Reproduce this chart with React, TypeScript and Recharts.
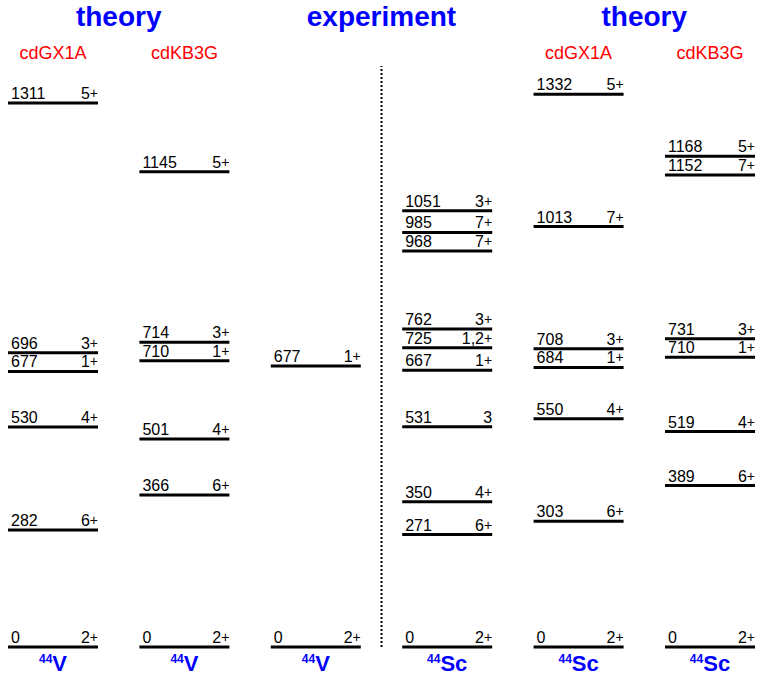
import React from "react";
import { ScatterChart, Scatter, XAxis, YAxis, ReferenceLine } from "recharts";

// level energies (keV) and spin-parity, one pair of arrays per column
const v44Gx1aEnergy = [1311, 696, 677, 530, 282, 0];
const v44Gx1aSpin = ["5+", "3+", "1+", "4+", "6+", "2+"];

const v44Kb3gEnergy = [1145, 714, 710, 501, 366, 0];
const v44Kb3gSpin = ["5+", "3+", "1+", "4+", "6+", "2+"];

const v44ExpEnergy = [677, 0];
const v44ExpSpin = ["1+", "2+"];

const sc44ExpEnergy = [1051, 985, 968, 762, 725, 667, 531, 350, 271, 0];
const sc44ExpSpin = ["3+", "7+", "7+", "3+", "1,2+", "1+", "3", "4+", "6+", "2+"];

const sc44Gx1aEnergy = [1332, 1013, 708, 684, 550, 303, 0];
const sc44Gx1aSpin = ["5+", "7+", "3+", "1+", "4+", "6+", "2+"];

const sc44Kb3gEnergy = [1168, 1152, 731, 710, 519, 389, 0];
const sc44Kb3gSpin = ["5+", "7+", "3+", "1+", "4+", "6+", "2+"];

const columnEnergies = [v44Gx1aEnergy, v44Kb3gEnergy, v44ExpEnergy, sc44ExpEnergy, sc44Gx1aEnergy, sc44Kb3gEnergy];
const columnSpins = [v44Gx1aSpin, v44Kb3gSpin, v44ExpSpin, sc44ExpSpin, sc44Gx1aSpin, sc44Kb3gSpin];
const columnNuclei = ["V", "V", "V", "Sc", "Sc", "Sc"];
const massNumber = "44";
const interactionLabels = ["cdGX1A", "cdKB3G", "", "", "cdGX1A", "cdKB3G"];
const groupTitles = [
  { text: "theory", cols: [0, 1] },
  { text: "experiment", cols: [2, 3] },
  { text: "theory", cols: [4, 5] },
];

const W = 761;
const H = 677;
const MARGIN = { top: 66, right: 51, bottom: 30, left: 53 };
const E_MAX = 1400;
const MIN_GAP = 45; // keV, levels closer than this are pushed apart
const HALF = 45; // half length of a level line, px

const BLUE = "#0000ff";
const RED = "#ff0000";
const FONT = "'Liberation Sans', Arial, sans-serif";

// push close-lying levels apart so their labels don't collide
function spreadLevels(energies: number[], gap: number): number[] {
  const order = energies.map((_, i) => i).sort((a, b) => energies[a] - energies[b]);
  const clusters = order.map((i) => ({ members: [i], center: energies[i] }));
  let merged = true;
  while (merged) {
    merged = false;
    for (let k = 0; k < clusters.length - 1; k++) {
      const a = clusters[k];
      const b = clusters[k + 1];
      const aTop = a.center + ((a.members.length - 1) / 2) * gap;
      const bBot = b.center - ((b.members.length - 1) / 2) * gap;
      if (bBot - aTop < gap) {
        const members = [...a.members, ...b.members];
        const center = members.reduce((s, i) => s + energies[i], 0) / members.length;
        clusters.splice(k, 2, { members, center });
        merged = true;
        break;
      }
    }
  }
  const out: number[] = new Array(energies.length);
  clusters.forEach((c) =>
    c.members.forEach((i, k) => {
      out[i] = c.center + (k - (c.members.length - 1) / 2) * gap;
    })
  );
  return out;
}

type Level = { col: number; energy: number; y: number; spin: string; nucleus: string };

const levels: Level[] = columnEnergies.flatMap((energies, col) => {
  const shown = spreadLevels(energies, MIN_GAP);
  return energies.map((energy, i) => ({
    col,
    energy,
    y: shown[i],
    spin: columnSpins[col][i],
    nucleus: columnNuclei[col],
  }));
});

const colX = (col: number) =>
  MARGIN.left + (col / (columnEnergies.length - 1)) * (W - MARGIN.left - MARGIN.right);

function LevelShape(props: any) {
  const { cx, cy, payload } = props;
  const p = payload as Level;
  const hasPlus = p.spin.endsWith("+");
  const spinCore = hasPlus ? p.spin.slice(0, -1) : p.spin;
  return (
    <g>
      <line x1={cx - HALF} x2={cx + HALF} y1={cy} y2={cy} stroke="#000" strokeWidth={3} />
      <text x={cx - HALF + 3} y={cy - 4} fontSize={16} fontFamily={FONT} fill="#000">
        {p.energy}
      </text>
      <text x={cx + HALF} y={cy - 4} fontSize={16} fontFamily={FONT} fill="#000" textAnchor="end">
        {spinCore}
        {hasPlus && <tspan fontSize={14} dy={-1}>+</tspan>}
      </text>
      {p.energy === 0 && (
        <text x={cx} y={cy + 24} textAnchor="middle" fill={BLUE} fontFamily={FONT} fontWeight="bold">
          <tspan fontSize={12} dy={-8}>{massNumber}</tspan>
          <tspan fontSize={22} dy={8}>{p.nucleus}</tspan>
        </text>
      )}
    </g>
  );
}

export default function App() {
  return (
    <div style={{ position: "absolute", left: 0, top: 0, width: W, height: H, background: "#fff" }}>
      <ScatterChart width={W} height={H} margin={MARGIN}>
        <XAxis type="number" dataKey="col" domain={[0, columnEnergies.length - 1]} hide />
        <YAxis type="number" dataKey="y" domain={[0, E_MAX]} hide />
        <ReferenceLine x={2.5} stroke="#000" strokeWidth={2} strokeDasharray="2 2" />
        <Scatter data={levels} shape={LevelShape} isAnimationActive={false} />
      </ScatterChart>
      <svg width={W} height={H} style={{ position: "absolute", left: 0, top: 0, pointerEvents: "none" }}>
        {groupTitles.map((g, i) => (
          <text
            key={i}
            x={(colX(g.cols[0]) + colX(g.cols[1])) / 2}
            y={26}
            textAnchor="middle"
            fill={BLUE}
            fontSize={28}
            fontWeight="bold"
            fontFamily={FONT}
          >
            {g.text}
          </text>
        ))}
        {interactionLabels.map((t, i) =>
          t ? (
            <text key={i} x={colX(i)} y={59} textAnchor="middle" fill={RED} fontSize={18} fontFamily={FONT}>
              {t}
            </text>
          ) : null
        )}
      </svg>
    </div>
  );
}
